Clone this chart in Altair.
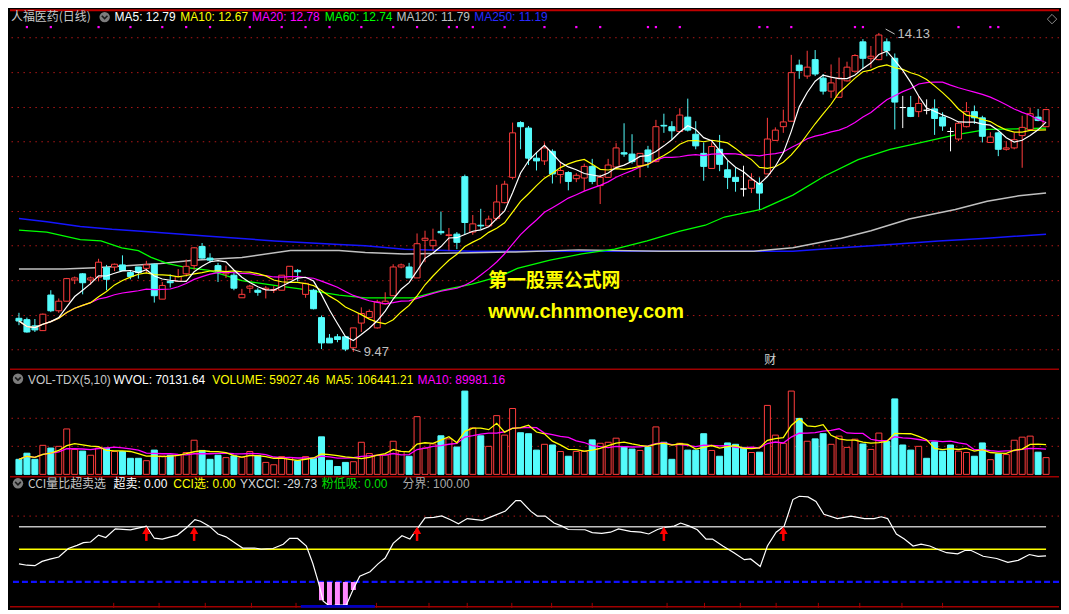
import altair as alt
import pandas as pd

# ---------------- data ----------------
opens = [9.96, 9.94, 9.85, 9.78, 10.30, 10.07, 10.21, 10.52, 10.61, 10.52,
 10.56, 10.70, 10.71, 10.74, 10.63, 10.71, 10.69, 10.75, 10.24, 10.50,
 10.50, 10.61, 10.73, 11.01, 10.84, 10.73, 10.61, 10.59, 10.26, 10.40,
 10.37, 10.38, 10.37, 10.37, 10.53, 10.66, 10.31, 10.37, 9.97, 9.67,
 9.69, 9.69, 9.53, 9.89, 9.97, 9.82, 10.17, 10.29, 10.71, 10.71,
 10.55, 11.10, 11.02, 11.23, 11.17, 11.19, 12.03, 11.22, 11.32, 11.31,
 11.42, 11.65, 12.02, 12.82, 12.74, 12.30, 12.26, 12.40, 12.06, 12.09,
 12.00, 12.01, 12.18, 11.90, 12.02, 12.17, 12.38, 12.36, 12.19, 12.42,
 12.25, 12.78, 12.76, 12.69, 12.90, 12.65, 12.37, 12.15, 12.43, 12.13,
 12.02, 11.85, 11.86, 11.93, 12.07, 12.56, 12.76, 12.84, 13.66, 13.50,
 13.74, 13.47, 13.28, 13.19, 13.43, 13.57, 14.00, 13.76, 13.74, 14.00,
 13.76, 13.04, 13.04, 12.98, 13.00, 13.02, 12.90, 12.69, 12.58, 12.76,
 12.98, 12.89, 12.53, 12.67, 12.43, 12.45, 12.63, 12.72, 12.90, 12.76]

highs = [10.04, 9.97, 9.95, 10.03, 10.37, 10.25, 10.55, 10.57, 10.62, 10.57,
 10.83, 10.74, 10.76, 10.88, 10.66, 10.71, 10.80, 10.76, 10.49, 10.60,
 10.68, 10.82, 11.00, 11.06, 10.91, 10.77, 10.73, 10.63, 10.39, 10.45,
 10.40, 10.43, 10.43, 10.59, 10.72, 10.68, 10.48, 10.39, 10.00, 9.73,
 9.73, 9.70, 9.82, 10.12, 10.09, 10.23, 10.34, 10.75, 10.76, 10.77,
 11.20, 11.24, 11.27, 11.52, 11.28, 11.22, 12.06, 11.47, 11.56, 11.46,
 11.91, 11.97, 12.82, 12.84, 12.77, 12.39, 12.53, 12.43, 12.25, 12.11,
 12.08, 12.22, 12.29, 12.06, 12.29, 12.52, 12.81, 12.65, 12.37, 12.48,
 12.86, 12.95, 12.84, 13.03, 13.17, 12.84, 12.53, 12.53, 12.64, 12.26,
 12.16, 12.19, 12.08, 12.02, 12.89, 12.75, 13.01, 13.81, 13.74, 13.87,
 13.88, 13.53, 13.67, 13.77, 13.71, 13.82, 14.04, 13.94, 14.13, 14.05,
 13.83, 13.21, 13.21, 13.21, 13.16, 13.16, 12.97, 12.75, 12.83, 13.12,
 13.07, 12.92, 12.68, 12.69, 12.55, 12.67, 12.92, 13.04, 13.02, 13.02]

lows = [9.86, 9.75, 9.76, 9.78, 10.05, 10.04, 10.21, 10.46, 10.31, 10.45,
 10.50, 10.37, 10.65, 10.65, 10.53, 10.54, 10.62, 10.19, 10.24, 10.41,
 10.49, 10.57, 10.67, 10.83, 10.77, 10.49, 10.55, 10.37, 10.26, 10.33,
 10.29, 10.25, 10.33, 10.37, 10.53, 10.50, 10.26, 10.09, 9.51, 9.60,
 9.61, 9.48, 9.47, 9.76, 9.96, 9.81, 10.16, 10.29, 10.69, 10.55,
 10.55, 10.78, 10.95, 11.18, 10.95, 10.97, 11.18, 11.18, 11.26, 11.30,
 11.39, 11.64, 11.99, 12.43, 12.20, 12.12, 12.20, 11.93, 11.93, 11.83,
 11.95, 11.82, 11.92, 11.63, 12.02, 12.16, 12.32, 12.22, 12.02, 12.16,
 12.24, 12.67, 12.57, 12.68, 12.69, 12.43, 11.97, 12.15, 12.11, 11.85,
 11.81, 11.74, 11.79, 11.55, 12.07, 12.56, 12.67, 12.84, 13.46, 13.46,
 13.50, 13.23, 13.18, 13.19, 13.42, 13.57, 13.60, 13.62, 13.73, 13.79,
 12.72, 12.74, 12.90, 12.90, 12.94, 12.64, 12.70, 12.40, 12.55, 12.75,
 12.80, 12.53, 12.53, 12.33, 12.41, 12.43, 12.16, 12.72, 12.84, 12.76]

closes = [9.92, 9.76, 9.79, 10.02, 10.07, 10.21, 10.54, 10.55, 10.48, 10.55,
 10.78, 10.53, 10.75, 10.66, 10.57, 10.63, 10.74, 10.29, 10.44, 10.48,
 10.57, 10.72, 10.99, 10.84, 10.81, 10.65, 10.63, 10.40, 10.31, 10.43,
 10.34, 10.40, 10.38, 10.59, 10.72, 10.64, 10.47, 10.10, 9.60, 9.60,
 9.65, 9.51, 9.82, 10.03, 10.06, 10.20, 10.21, 10.71, 10.74, 10.55,
 11.05, 11.13, 11.10, 11.21, 11.18, 11.07, 11.36, 11.34, 11.31, 11.41,
 11.66, 11.92, 12.67, 12.76, 12.30, 12.26, 12.45, 12.07, 12.12, 11.96,
 12.05, 12.18, 11.96, 12.02, 12.20, 12.45, 12.36, 12.25, 12.37, 12.25,
 12.76, 12.77, 12.70, 12.93, 12.71, 12.48, 12.18, 12.47, 12.21, 12.02,
 11.96, 11.85, 11.98, 11.79, 12.58, 12.71, 12.83, 13.55, 13.58, 13.63,
 13.53, 13.28, 13.40, 13.47, 13.63, 13.80, 13.76, 13.79, 14.10, 13.87,
 13.12, 13.04, 12.91, 13.10, 13.00, 12.88, 12.77, 12.69, 12.81, 12.98,
 12.89, 12.62, 12.61, 12.43, 12.45, 12.57, 12.75, 12.95, 12.85, 13.01]

volumes = [53000, 74600, 53000, 102300, 92700, 98700, 160000, 87900, 81900, 67400,
 92700, 92700, 80600, 80600, 56600, 56600, 48200, 85500, 65000, 67400,
 68600, 77000, 120300, 84300, 53000, 67400, 59000, 65000, 60200, 80600,
 66200, 42200, 33800, 62600, 59000, 48200, 62600, 56600, 132300, 49400,
 27700, 42200, 44600, 113100, 73400, 67400, 68600, 116700, 80600, 63800,
 203300, 92700, 107100, 135900, 125100, 96300, 293400, 163600, 135900, 98700,
 206900, 138300, 232100, 146700, 143200, 85500, 105900, 103500, 80600, 63800,
 80600, 80600, 121500, 109500, 113100, 127500, 97500, 89100, 84300, 96300,
 167200, 113100, 53000, 109500, 85500, 85500, 143200, 84300, 63800, 110700,
 105900, 95100, 77000, 78200, 242900, 138300, 109500, 293400, 197200, 116700,
 125100, 143200, 105900, 134700, 95100, 123900, 107100, 87900, 145500, 115500,
 265800, 103500, 85500, 98700, 56600, 114300, 81900, 103500, 81900, 77000,
 63800, 110700, 51800, 72200, 69800, 120300, 131100, 134700, 78200, 59027]

# long moving averages (bar position, value)
ma60_x = [0, 3.5, 7.7, 10.3, 12.9, 15, 16.6, 18.7, 21.1, 23.9, 28, 32.1, 35.3, 40.2, 43.5,
          49.6, 53.2, 56.9, 60.6, 62.6, 66.7, 70.7, 74.8, 78.9, 82.9, 86.2, 88.6, 93.2,
          97.2, 101.2, 105.4, 109.4, 113.4, 117.6, 121.6, 125.6, 129]
ma60_v = [11.25, 11.22, 11.11, 11.09, 10.99, 10.95, 10.85, 10.76, 10.70, 10.66, 10.51, 10.44,
          10.39, 10.30, 10.26, 10.26, 10.37, 10.46, 10.58, 10.69, 10.81, 10.90, 10.97, 11.09,
          11.23, 11.32, 11.44, 11.55, 11.76, 12.04, 12.28, 12.43, 12.53, 12.64, 12.72, 12.73, 12.74]
ma120_x = [0, 5.6, 9.6, 17.8, 21.9, 28, 34.1, 40.2, 43.5, 48.4, 62.4, 70.3, 80.7, 92.3,
           97.2, 103.3, 107, 111.8, 117.6, 121.6, 125.6, 129]
ma120_v = [10.68, 10.68, 10.70, 10.76, 10.81, 10.85, 10.95, 10.95, 10.92, 10.90, 10.93, 10.96,
           10.94, 10.94, 10.99, 11.13, 11.24, 11.41, 11.55, 11.67, 11.75, 11.79]
ma250_x = [0, 3.5, 7.7, 11.7, 15.8, 23.9, 32.1, 40.2, 43.5, 48.4, 56.9, 97.2, 103.3, 109.4,
           115.5, 121.6, 129]
ma250_v = [11.42, 11.37, 11.30, 11.26, 11.23, 11.16, 11.09, 11.04, 11.02, 10.97, 10.94, 10.94,
           10.99, 11.04, 11.09, 11.13, 11.19]

# CCI line (bar position, value)
cci_x = [0.0, 1.0, 2.0, 2.9, 3.9, 5.0, 6.2, 7.3, 8.1, 9.0, 10.0, 10.9, 12.1, 14.0, 15.1, 16.0,
         17.0, 18.0, 19.9, 21.0, 22.1, 22.8, 23.9, 25.0, 26.0, 27.1, 28.1, 29.6, 30.4, 31.9,
         33.2, 34.0, 35.0, 36.1, 36.9, 37.6, 38.2, 39.0, 39.9, 41.1, 42.0, 42.8, 44.1, 45.1,
         46.0, 47.0, 48.1, 49.1, 50.0, 51.0, 52.1, 53.1, 54.2, 55.2, 56.3, 58.2, 59.6, 61.1,
         62.4, 63.0, 64.3, 65.1, 66.1, 67.2, 68.2, 69.0, 71.1, 72.0, 73.2, 74.3, 75.3, 76.8,
         78.1, 79.1, 80.2, 81.0, 82.3, 83.1, 84.2, 85.2, 86.3, 87.1, 88.4, 89.8, 91.1, 91.9,
         93.1, 94.0, 95.1, 96.1, 96.5, 97.2, 98.0, 99.1, 100.1, 101.1, 102.8, 104.5, 106.2,
         107.4, 108.3, 109.1, 110.2, 111.2, 112.3, 113.3, 114.4, 115.2, 116.5, 117.9, 118.8,
         119.6, 121.1, 122.8, 124.2, 125.5, 126.9, 128.0, 129.0]
cci_v = [-66, -72, -74, -55, -45, -35, 3, 17, 29, 32, 63, 52, 91, 86, 95, 103,
         49, 45, 63, 95, 132, 125, 103, 68, 55, 29, 5, 5, 0, 3,
         22, 48, 48, 14, -63, -148, -232, -255, -251, -251, -178, -121, -101, -66,
         -40, 26, 60, 45, 91, 140, 142, 149, 132, 114, 137, 129, 149, 171,
         217, 217, 169, 148, 148, 117, 103, 88, 87, 74, 71, 76, 91, 80,
         76, 68, 88, 97, 103, 117, 103, 87, 45, 45, 14, -16, -47, -44,
         -78, 14, 76, 103, 145, 222, 237, 234, 214, 156, 137, 148, 137,
         137, 145, 137, 68, 45, 14, 22, 14, 2, -16, -21, -6,
         -6, -32, -42, -59, -50, -24, -32, -29.73]

pink_idx = [38, 39, 40, 41, 42]
pink_val = [-229, -260, -251, -251, -183]
arrow_idx = [16, 22, 50, 81, 96]
top_dots = [1, 4, 10, 14, 18, 21, 24, 29, 33, 36, 39, 43, 47, 50, 54, 55, 57, 61, 66, 70,
            73, 79, 80, 83, 93, 94, 97, 105, 106, 118, 122, 123]
bottom_ticks = [11.9, 17.6, 23.4, 29.2, 34.8, 44.9, 51.5, 56.3, 61.9, 66.9, 72.0, 81.4,
                86.1, 90.6, 95.1, 100.4, 105.6, 110.9, 116.0]
price_grid = [14.06, 13.55, 13.04, 12.54, 12.03, 11.52, 11.02, 10.51, 10.00, 9.50]
vol_grid = [98800, 197600]
cci_lines = {"grid": 148, "upper": 100, "zero": 0, "low": -147}

# ---------------- styling ----------------
W = 1053
H1, H2, H3 = 360, 106, 132
RED = "#ff3c3c"
CYAN = "#54fcfc"
WHITE = "#ffffff"
YEL = "#ffff00"
MAG = "#ff00ff"
GRN = "#00ff00"
GRY = "#c0c0c0"
BLU = "#1515ff"
GRID = "#b01818"
SEP = "#a00000"
FONT = "Liberation Sans, Noto Sans CJK SC, sans-serif"
CJK = "Noto Sans CJK SC, sans-serif"

df = pd.DataFrame({
    "idx": list(range(len(closes))),
    "open": opens, "high": highs, "low": lows, "close": closes, "vol": volumes,
})
df["dir"] = ["up" if c > o else ("down" if c < o else "flat") for o, c in zip(opens, closes)]
df["vdir"] = ["up" if c > o else "down" for o, c in zip(opens, closes)]

xs = alt.Scale(domain=[-0.5, 130.0], nice=False, zero=False)
ys1 = alt.Scale(domain=[9.237, 14.478], nice=False, zero=False)
ys2 = alt.Scale(domain=[0, 372000], nice=False, zero=False)
ys3 = alt.Scale(domain=[-263, 326], nice=False, zero=False)
X = alt.X("idx:Q", scale=xs, axis=None)
dirs = ["up", "down", "flat"]
one = pd.DataFrame({"a": [0]})


def txt(s, x, y, color, size=12, weight="normal", font=FONT):
    return alt.Chart(one).mark_text(
        text=s, align="left", baseline="middle", fontSize=size, fontWeight=weight,
        font=font, color=color
    ).encode(x=alt.value(x), y=alt.value(y))


def icon(x, y):
    c = alt.Chart(one).mark_point(shape="circle", filled=True, size=110, color="#7d7d7d",
                                  opacity=1).encode(x=alt.value(x), y=alt.value(y))
    v = alt.Chart(one).mark_point(shape="M-0.6,-0.3L0,0.3L0.6,-0.3", filled=False, size=90,
                                  color="#1a1a1a", strokeWidth=1.6, opacity=1
                                  ).encode(x=alt.value(x), y=alt.value(y))
    return [c, v]


def line_xy(xv, yv, color, ys, width=1.2):
    d = pd.DataFrame({"i": xv, "v": yv})
    return alt.Chart(d).mark_line(color=color, strokeWidth=width, clip=True).encode(
        x=alt.X("i:Q", scale=xs, axis=None), y=alt.Y("v:Q", scale=ys, axis=None))


def ma_line(field, n, color, ys, width=1.2):
    return alt.Chart(df).transform_window(
        m=f"mean({field})", frame=[-(n - 1), 0], sort=[alt.SortField("idx")]
    ).mark_line(color=color, strokeWidth=width, clip=True).encode(
        x=X, y=alt.Y("m:Q", scale=ys, axis=None))


# ---------------- price panel ----------------
grid1 = alt.Chart(pd.DataFrame({"p": price_grid})).mark_rule(
    color=GRID, strokeDash=[1.5, 4.5], strokeWidth=1).encode(y=alt.Y("p:Q", scale=ys1, axis=None))
top_border = alt.Chart(one).mark_rule(color="#c00000", strokeWidth=2).encode(
    x=alt.value(0), x2=alt.value(W), y=alt.value(1))
wick = alt.Chart(df).mark_rule(strokeWidth=1).encode(
    x=X, y=alt.Y("low:Q", scale=ys1, axis=None), y2="high:Q",
    color=alt.Color("dir:N", scale=alt.Scale(domain=dirs, range=[RED, CYAN, WHITE]), legend=None))
body = alt.Chart(df).mark_bar(size=6, strokeWidth=1).encode(
    x=X, y=alt.Y("open:Q", scale=ys1, axis=None), y2="close:Q",
    fill=alt.Fill("dir:N", scale=alt.Scale(domain=dirs, range=["#000000", CYAN, WHITE]), legend=None),
    stroke=alt.Stroke("dir:N", scale=alt.Scale(domain=dirs, range=[RED, CYAN, WHITE]), legend=None))
dots = alt.Chart(pd.DataFrame({"i": top_dots})).mark_square(size=5, color=MAG, opacity=1).encode(
    x=alt.X("i:Q", scale=xs, axis=None), y=alt.value(18))

hi_mark = alt.Chart(one).mark_rule(color=GRY, strokeWidth=1).encode(
    x=alt.value(879), x2=alt.value(888), y=alt.value(20), y2=alt.value(25))
lo_mark = alt.Chart(one).mark_rule(color=GRY, strokeWidth=1).encode(
    x=alt.value(343), x2=alt.value(352), y=alt.value(341), y2=alt.value(344))
diamond = alt.Chart(one).mark_point(shape="diamond", filled=False, size=90, color="#8a8a8a",
                                    strokeWidth=1, opacity=1).encode(x=alt.value(1046), y=alt.value(10))

price_layers = [
    grid1, top_border,
    line_xy(ma250_x, ma250_v, BLU, ys1, 1.5),
    line_xy(ma120_x, ma120_v, GRY, ys1, 1.5),
    line_xy(ma60_x, ma60_v, GRN, ys1, 1.3),
    wick, body,
    ma_line("close", 20, MAG, ys1),
    ma_line("close", 10, YEL, ys1),
    ma_line("close", 5, WHITE, ys1),
    dots, hi_mark, lo_mark, diamond,
    txt("14.13", 891, 25, GRY, 13),
    txt("9.47", 355, 344, GRY, 13),
    txt("第一股票公式网", 480, 273, YEL, 19, "bold", CJK),
    txt("www.chnmoney.com", 480, 304, YEL, 20, "bold", "Liberation Sans"),
    txt("财", 757, 352, "#d0d0d0", 12, "normal", CJK),
    txt("人福医药(日线)", 1, 8, "#c8c8c8", 12, "normal", CJK),
    *icon(95, 8),
    txt("MA5: 12.79", 105, 8, WHITE),
    txt("MA10: 12.67", 171, 8, YEL),
    txt("MA20: 12.78", 243, 8, MAG),
    txt("MA60: 12.74", 316, 8, GRN),
    txt("MA120: 11.79", 388, 8, GRY),
    txt("MA250: 11.19", 466, 8, "#2a2aff"),
]
price = alt.layer(*price_layers).properties(width=W, height=H1)

# ---------------- volume panel ----------------
sep2 = alt.Chart(one).mark_rule(color=SEP, strokeWidth=1.5).encode(
    x=alt.value(0), x2=alt.value(W), y=alt.value(0.5))
grid2 = alt.Chart(pd.DataFrame({"v": vol_grid})).mark_rule(
    color=GRID, strokeDash=[1.5, 4.5], strokeWidth=1).encode(y=alt.Y("v:Q", scale=ys2, axis=None))
vbars = alt.Chart(df).mark_bar(size=6, strokeWidth=1).encode(
    x=X, y=alt.Y("vol:Q", scale=ys2, axis=None), y2=alt.datum(0),
    fill=alt.Fill("vdir:N", scale=alt.Scale(domain=["up", "down"], range=["#000000", CYAN]), legend=None),
    stroke=alt.Stroke("vdir:N", scale=alt.Scale(domain=["up", "down"], range=[RED, CYAN]), legend=None))
vol_layers = [
    grid2, vbars,
    ma_line("vol", 10, MAG, ys2, 1.3),
    ma_line("vol", 5, YEL, ys2, 1.3),
    sep2,
    *icon(8, 10),
    txt("VOL-TDX(5,10)", 18, 11, "#c8c8c8"),
    txt("WVOL: 70131.64", 104, 11, WHITE),
    txt("VOLUME: 59027.46", 203, 11, YEL),
    txt("MA5: 106441.21", 317, 11, YEL),
    txt("MA10: 89981.16", 409, 11, MAG),
]
volume = alt.layer(*vol_layers).properties(width=W, height=H2)

# ---------------- CCI panel ----------------
sep3 = alt.Chart(one).mark_rule(color=SEP, strokeWidth=1.5).encode(
    x=alt.value(0), x2=alt.value(W), y=alt.value(0.5))
grid3 = alt.Chart(pd.DataFrame({"v": [cci_lines["grid"]]})).mark_rule(
    color=GRID, strokeDash=[1.5, 4.5], strokeWidth=1).encode(y=alt.Y("v:Q", scale=ys3, axis=None))
lvl = pd.DataFrame({"a": [0], "b": [129], "up": [cci_lines["upper"]], "z": [cci_lines["zero"]]})
upper = alt.Chart(lvl).mark_rule(color=GRY, strokeWidth=1.5).encode(
    x=alt.X("a:Q", scale=xs, axis=None), x2="b:Q", y=alt.Y("up:Q", scale=ys3, axis=None))
zero = alt.Chart(lvl).mark_rule(color=YEL, strokeWidth=1.5).encode(
    x=alt.X("a:Q", scale=xs, axis=None), x2="b:Q", y=alt.Y("z:Q", scale=ys3, axis=None))
low = alt.Chart(pd.DataFrame({"v": [cci_lines["low"]]})).mark_rule(
    color="#1010ff", strokeDash=[6, 3], strokeWidth=2.2).encode(y=alt.Y("v:Q", scale=ys3, axis=None))
pink = alt.Chart(pd.DataFrame({"i": pink_idx, "v": pink_val})).mark_bar(size=5, color="#ff88ff").encode(
    x=alt.X("i:Q", scale=xs, axis=None), y=alt.Y("v:Q", scale=ys3, axis=None),
    y2=alt.datum(cci_lines["low"]))
cci = line_xy(cci_x, cci_v, WHITE, ys3, 1.2)
adf = pd.DataFrame({"i": arrow_idx})
shaft = alt.Chart(adf).mark_rule(color="#ff0000", strokeWidth=2.5).encode(
    x=alt.X("i:Q", scale=xs, axis=None), y=alt.datum(37), y2=alt.datum(72))
head = alt.Chart(adf).mark_point(shape="triangle-up", filled=True, size=70, color="#ff0000",
                                 opacity=1).encode(x=alt.X("i:Q", scale=xs, axis=None), y=alt.datum(84))
bottom = alt.Chart(one).mark_rule(color=SEP, strokeWidth=1.5).encode(
    x=alt.value(0), x2=alt.value(W), y=alt.value(131))
ticks = alt.Chart(pd.DataFrame({"i": bottom_ticks})).mark_rule(color=SEP, strokeWidth=1).encode(
    x=alt.X("i:Q", scale=xs, axis=None), y=alt.value(127), y2=alt.value(132))
blue_sel = alt.Chart(pd.DataFrame({"a": [35.4], "b": [44.7]})).mark_rect(color="#0000c0").encode(
    x=alt.X("a:Q", scale=xs, axis=None), x2="b:Q", y=alt.value(129), y2=alt.value(132))
cci_layers = [
    grid3, upper, zero, low, pink, cci, shaft, head, bottom, ticks, blue_sel, sep3,
    *icon(8, 7),
    txt("CCI量比超卖选", 18, 8, "#c8c8c8", 12, "normal", CJK),
    txt("超卖: 0.00", 104, 8, WHITE),
    txt("CCI选: 0.00", 164, 8, YEL),
    txt("YXCCI: -29.73", 231, 8, "#d8d8d8"),
    txt("粉低吸: 0.00", 313, 8, "#00dd00"),
    txt("分界: 100.00", 394, 8, "#a8a8a8"),
]
cci_panel = alt.layer(*cci_layers).properties(width=W, height=H3)

chart = alt.vconcat(price, volume, cci_panel, spacing=0).properties(
    background="#000000", padding=0
).configure_view(stroke=None).configure_concat(spacing=0)

chart.save("out.html", embed_options={"renderer": "svg", "actions": False})
